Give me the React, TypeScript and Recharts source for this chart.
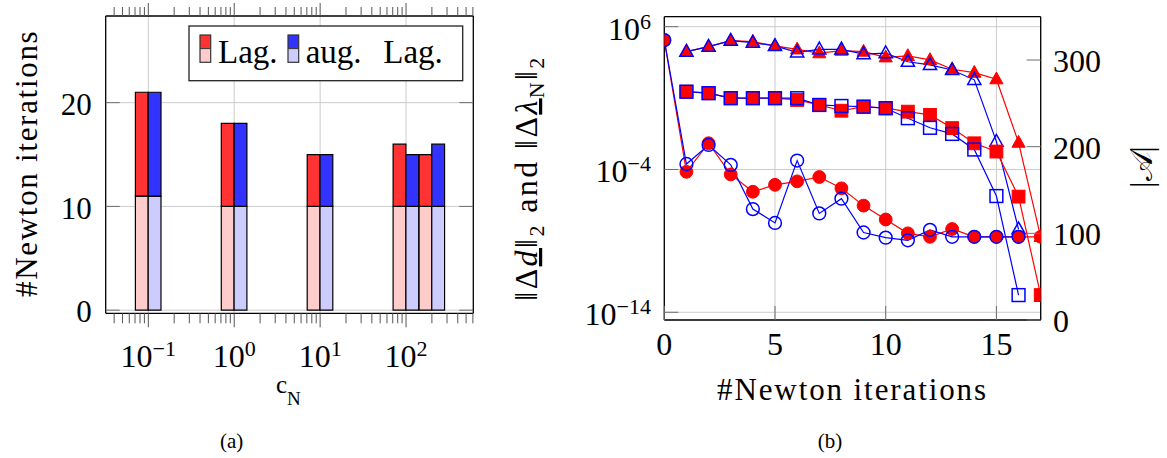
import React from 'react';
import { ComposedChart, Bar, Line, XAxis, YAxis, CartesianGrid } from 'recharts';

const FONT = "'Liberation Serif', 'Times New Roman', serif";

// ---------- (a) bar chart data ----------
const cValues = [0.1, 1, 10, 100, 200];
const lagFirstPhase = [11, 10, 10, 10, 10];
const lagTotal = [21, 18, 15, 16, 15];
const augFirstPhase = [11, 10, 10, 10, 10];
const augTotal = [21, 18, 15, 15, 16];
const cMajorTicks = [0.1, 1, 10, 100];
const cMinorTicks = [
  0.04, 0.05, 0.06, 0.07, 0.08, 0.09,
  0.2, 0.3, 0.4, 0.5, 0.6, 0.7, 0.8, 0.9,
  2, 3, 4, 5, 6, 7, 8, 9,
  20, 30, 40, 50, 60, 70, 80, 90,
  200, 300, 400, 500, 600,
];
const newtonTicks = [0, 10, 20];
const C_MIN = 0.0319;
const C_MAX = 606.7;

// ---------- (b) convergence data ----------
const iterations = [0, 1, 2, 3, 4, 5, 6, 7, 8, 9, 10, 11, 12, 13, 14, 15, 16, 17];
const lagDeltaLambda = [null, 1.8e4, 4.0e4, 1.05e5, 8.9e4, 4.5e4, 2.6e4, 1.4e4, 2.1e4, 1.8e4, 7.2e3, 8.9e3, 4.7e3, 1.05e3, 6.0e2, 2.1e2, 7.6e-3, 1.9e-9];
const augDeltaLambda = [null, 1.8e4, 4.0e4, 1.05e5, 7.6e4, 4.5e4, 1.6e4, 2.6e4, 2.6e4, 1.2e4, 1.4e4, 3.5e3, 2.1e3, 9.3e2, 1.9e2, 8.9e-3, 6.5e-9, null];
const lagDeltaD = [null, 28, 22, 9.8, 9.8, 9.8, 7.4, 3.3, 1.3, 2.5, 1.95, 1.12, 0.66, 0.079, 6.8e-3, 1.8e-3, 1.26e-6, 1.6e-13];
const augDeltaD = [null, 28, 22, 9.8, 9.8, 9.8, 9.8, 3.3, 2.8, 2.5, 1.95, 0.39, 0.083, 0.031, 2.5e-3, 1.38e-6, 1.6e-13, null];
const lagActive = [323, 171, 204, 168, 148, 156, 160, 165, 152, 132, 116, 100, 96, 105, 96, 96, 96, 96];
const augActive = [323, 180, 202, 179, 128, 112, 184, 123, 140, 101, 95, 92, 104, 96, 96, 96, 96, null];
const iterTicks = [0, 5, 10, 15];
const normTicks = [1e-14, 1e-4, 1e6];
const activeTicks = [0, 100, 200, 300];
const LOG_MIN = 2.88e-15;
const LOG_MAX = 5.0e6;

const barRows = cValues.map((c, i) => ({
  c,
  lagBase: lagFirstPhase[i],
  lagExtra: lagTotal[i] - lagFirstPhase[i],
  augBase: augFirstPhase[i],
  augExtra: augTotal[i] - augFirstPhase[i],
}));

const convRows = iterations.map((it, i) => ({
  it,
  lagL: lagDeltaLambda[i],
  augL: augDeltaLambda[i],
  lagD: lagDeltaD[i],
  augD: augDeltaD[i],
  lagA: lagActive[i],
  augA: augActive[i],
}));

const cAllTicks = [...cMajorTicks, ...cMinorTicks].sort((a, b) => a - b);
const isMajorC = (v: number) => cMajorTicks.some((m) => Math.abs(m - v) / m < 1e-6);

const RED = '#ff0000';
const BLUE = '#0000ff';
const GRID = '#cbcbcb';
const TICK = '#6e6e6e';
const MINOR = '#555555';

const supText = (e: number) => (e < 0 ? '\u2212' + Math.abs(e) : String(e));

// ---- ticks of (a) ----
const XTickA = (props: any) => {
  const { x, y, payload } = props;
  const major = isMajorC(payload.value);
  const e = Math.round(Math.log10(payload.value));
  return (
    <g>
      <line x1={x} x2={x} y1={y} y2={y + (major ? 14 : 10)} stroke={MINOR} strokeWidth={1} />
      {major && (
        <text x={x} y={y + 53.4} textAnchor="middle" fontFamily={FONT} fontSize={32} fill="#000">
          10<tspan dy={-11} fontSize={22}>{supText(e)}</tspan>
        </text>
      )}
    </g>
  );
};

const XTopTickA = (props: any) => {
  const { x, y, payload } = props;
  const major = isMajorC(payload.value);
  return <line x1={x} x2={x} y1={y} y2={y - (major ? 13 : 9)} stroke={MINOR} strokeWidth={1} />;
};

const YTickA = (props: any) => {
  const { x, y, payload } = props;
  return (
    <g>
      <line x1={x} x2={x + 14} y1={y} y2={y} stroke={TICK} strokeWidth={1} />
      <text x={x - 14} y={y + 12.3} textAnchor="end" fontFamily={FONT} fontSize={31} fill="#000">
        {payload.value}
      </text>
    </g>
  );
};

const YRightTickA = (props: any) => {
  const { x, y } = props;
  return <line x1={x} x2={x - 14} y1={y} y2={y} stroke={TICK} strokeWidth={1} />;
};

// ---- ticks of (b) ----
const XTickB = (props: any) => {
  const { x, y, payload } = props;
  return (
    <g>
      <line x1={x} x2={x} y1={y} y2={y - 14} stroke={TICK} strokeWidth={1} />
      <text x={x} y={y + 35} textAnchor="middle" fontFamily={FONT} fontSize={32} fill="#000">
        {payload.value}
      </text>
    </g>
  );
};

const YLogTickB = (props: any) => {
  const { x, y, payload } = props;
  const e = Math.round(Math.log10(payload.value));
  return (
    <g>
      <line x1={x} x2={x + 14} y1={y} y2={y} stroke={TICK} strokeWidth={1} />
      <text x={x - 13.3} y={y + 13} textAnchor="end" fontFamily={FONT} fontSize={32} fill="#000">
        10<tspan dy={-11} fontSize={22}>{supText(e)}</tspan>
      </text>
    </g>
  );
};

const YRightTickB = (props: any) => {
  const { x, y, payload } = props;
  return (
    <g>
      <line x1={x} x2={x - 14} y1={y} y2={y} stroke={TICK} strokeWidth={1} />
      <text x={x + 12.3} y={y + 12} textAnchor="start" fontFamily={FONT} fontSize={32} fill="#000">
        {payload.value}
      </text>
    </g>
  );
};

type MarkKind = 'circle' | 'square' | 'triangle';
const makeDot = (kind: MarkKind, color: string, filled: boolean) => (props: any) => {
  const { cx, cy, index, value } = props;
  if (cx == null || cy == null || value == null || Number.isNaN(cy)) return <g key={`e${index}`} />;
  const common = {
    fill: filled ? color : 'none',
    stroke: color,
    strokeWidth: filled ? 1 : 1.5,
  };
  if (kind === 'circle') return <circle key={`c${index}`} cx={cx} cy={cy} r={6.4} {...common} />;
  if (kind === 'square') return <rect key={`s${index}`} x={cx - 6.4} y={cy - 6.4} width={12.8} height={12.8} {...common} />;
  const pts = `${cx},${cy - 7.2} ${cx - 6.6},${cy + 4.6} ${cx + 6.6},${cy + 4.6}`;
  return <polygon key={`t${index}`} points={pts} {...common} />;
};

const FRAME = { stroke: '#000', strokeWidth: 1.3 };

const BarChartA = () => (
  <ComposedChart
    width={490}
    height={458}
    data={barRows}
    margin={{ top: 15, right: 15.7, bottom: 0, left: 0 }}
    barGap={0}
  >
    <CartesianGrid
      xAxisId="c" yAxisId="n" stroke={GRID} strokeWidth={1}
      verticalValues={cMajorTicks} horizontalValues={newtonTicks}
    />
    <XAxis
      xAxisId="c" dataKey="c" type="number" scale="log" domain={[C_MIN, C_MAX]} allowDataOverflow
      ticks={cAllTicks} interval={0} height={144.7} tickSize={0} tickMargin={0}
      tick={XTickA} axisLine={FRAME} tickLine={false}
    />
    <XAxis
      xAxisId="cTop" orientation="top" dataKey="c" type="number" scale="log" domain={[C_MIN, C_MAX]} allowDataOverflow
      ticks={cAllTicks} interval={0} height={1} tickSize={0} tickMargin={0} tick={XTopTickA}
      axisLine={FRAME} tickLine={false}
    />
    <YAxis
      yAxisId="n" type="number" domain={[-0.3, 28.35]} allowDataOverflow ticks={newtonTicks} interval={0}
      width={105.7} tickSize={0} tickMargin={0} tick={YTickA}
      axisLine={FRAME} tickLine={false}
    />
    <YAxis
      yAxisId="nRight" orientation="right" type="number" domain={[-0.3, 28.35]} allowDataOverflow ticks={newtonTicks}
      interval={0} width={1} tickSize={0} tickMargin={0} tick={YRightTickA}
      axisLine={FRAME} tickLine={false}
    />
    <Bar xAxisId="c" yAxisId="n" dataKey="lagBase" stackId="lag" fill="#ffcccc" stroke="#000" strokeWidth={1.2} barSize={12.8} isAnimationActive={false} />
    <Bar xAxisId="c" yAxisId="n" dataKey="lagExtra" stackId="lag" fill="#ff3333" stroke="#000" strokeWidth={1.2} barSize={12.8} isAnimationActive={false} />
    <Bar xAxisId="c" yAxisId="n" dataKey="augBase" stackId="aug" fill="#ccccff" stroke="#000" strokeWidth={1.2} barSize={12.8} isAnimationActive={false} />
    <Bar xAxisId="c" yAxisId="n" dataKey="augExtra" stackId="aug" fill="#3333ff" stroke="#000" strokeWidth={1.2} barSize={12.8} isAnimationActive={false} />
  </ComposedChart>
);

const ConvChartB = () => (
  <ComposedChart
    width={667}
    height={458}
    data={convRows}
    margin={{ top: 15.7, right: 0, bottom: 0, left: 0 }}
  >
    <CartesianGrid xAxisId="it" yAxisId="log" stroke={GRID} strokeWidth={1} />
    <XAxis
      xAxisId="it" dataKey="it" type="number" domain={[0, 17]} allowDataOverflow ticks={iterTicks} interval={0}
      height={138} tickSize={0} tickMargin={0} tick={XTickB}
      axisLine={FRAME} tickLine={false}
    />
    <XAxis
      xAxisId="itTop" orientation="top" dataKey="it" type="number" domain={[0, 17]} allowDataOverflow ticks={iterTicks}
      interval={0} height={1} tickSize={0} tick={() => <g />} tickLine={false}
      axisLine={FRAME}
    />
    <YAxis
      yAxisId="log" type="number" scale="log" domain={[LOG_MIN, LOG_MAX]} allowDataOverflow ticks={normTicks} interval={0}
      width={164.3} tickSize={0} tickMargin={0} tick={YLogTickB}
      axisLine={FRAME} tickLine={false}
    />
    <YAxis
      yAxisId="lin" orientation="right" type="number" domain={[0, 350]} allowDataOverflow ticks={activeTicks} interval={0}
      width={126.3} tickSize={0} tickMargin={0} tick={YRightTickB}
      axisLine={FRAME} tickLine={false}
    />
    <Line xAxisId="it" yAxisId="log" dataKey="lagL" stroke={RED} strokeWidth={1.2} dot={makeDot('triangle', RED, true)} activeDot={false} isAnimationActive={false} />
    <Line xAxisId="it" yAxisId="log" dataKey="augL" stroke={BLUE} strokeWidth={1.2} dot={makeDot('triangle', BLUE, false)} activeDot={false} isAnimationActive={false} />
    <Line xAxisId="it" yAxisId="log" dataKey="lagD" stroke={RED} strokeWidth={1.2} dot={makeDot('square', RED, true)} activeDot={false} isAnimationActive={false} />
    <Line xAxisId="it" yAxisId="log" dataKey="augD" stroke={BLUE} strokeWidth={1.2} dot={makeDot('square', BLUE, false)} activeDot={false} isAnimationActive={false} />
    <Line xAxisId="it" yAxisId="lin" dataKey="lagA" stroke={RED} strokeWidth={1.2} dot={makeDot('circle', RED, true)} activeDot={false} isAnimationActive={false} />
    <Line xAxisId="it" yAxisId="lin" dataKey="augA" stroke={BLUE} strokeWidth={1.2} dot={makeDot('circle', BLUE, false)} activeDot={false} isAnimationActive={false} />
  </ComposedChart>
);

const Overlay = () => (
  <svg
    width={1167}
    height={458}
    style={{ position: 'absolute', left: 0, top: 0, pointerEvents: 'none', overflow: 'visible' }}
    fontFamily={FONT}
  >
    {/* legend of (a) */}
    <rect x={189} y={26} width={273.7} height={54.7} fill="#fff" stroke="#222" strokeWidth={1.3} />
    <rect x={200} y={35} width={10.7} height={13.6} fill="#ff3333" />
    <rect x={200} y={48.6} width={10.7} height={13.7} fill="#ffcccc" />
    <rect x={200} y={35} width={10.7} height={27.3} fill="none" stroke="#333" strokeWidth={1.2} />
    <line x1={200} x2={210.7} y1={48.6} y2={48.6} stroke="#333" strokeWidth={1} />
    <text x={218} y={62.7} fontSize={33} fill="#000">Lag.</text>
    <rect x={288} y={35} width={10.7} height={13.6} fill="#3333ff" />
    <rect x={288} y={48.6} width={10.7} height={13.7} fill="#ccccff" />
    <rect x={288} y={35} width={10.7} height={27.3} fill="none" stroke="#333" strokeWidth={1.2} />
    <line x1={288} x2={298.7} y1={48.6} y2={48.6} stroke="#333" strokeWidth={1} />
    <text y={62.7} fontSize={33} fill="#000">
      <tspan x={305.7}>aug.</tspan>
      <tspan x={383.3}>Lag.</tspan>
    </text>

    {/* axis titles of (a) */}
    <text transform="translate(37,163.3) rotate(-90)" textAnchor="middle" fontSize={31} letterSpacing={1.7} fill="#000">
      #Newton iterations
    </text>
    <text x={288.3} y={393.3} textAnchor="middle" fontSize={25} fill="#000">
      c<tspan fontSize={19} dy={12}>N</tspan>
    </text>
    <text x={231.7} y={447.5} textAnchor="middle" fontSize={21} fill="#000">(a)</text>

    {/* axis titles of (b) */}
    <text x={852.5} y={400} textAnchor="middle" fontSize={31} letterSpacing={1.9} fill="#000">
      #Newton iterations
    </text>
    <text transform="translate(537,178) rotate(-90)" textAnchor="middle" fontSize={32} letterSpacing={2.4} fill="#000" style={{ whiteSpace: 'pre' }}>
      <tspan>{'\u2016\u0394'}</tspan>
      <tspan fontStyle="italic" textDecoration="underline">d</tspan>
      <tspan>{'\u2016'}</tspan>
      <tspan fontSize={22} dy={7}>2</tspan>
      <tspan dy={-7}>{' and \u2016\u0394'}</tspan>
      <tspan fontStyle="italic" textDecoration="underline">{'\u03bb'}</tspan>
      <tspan fontSize={22} dy={7}>N</tspan>
      <tspan dy={-7}>{'\u2016'}</tspan>
      <tspan fontSize={22} dy={7}>2</tspan>
    </text>
    <text transform="translate(1152,167) rotate(-90)" textAnchor="middle" fontSize={31} fill="#000">
      {'|\ud835\udc9c|'}
    </text>
    <text x={830} y={447.5} textAnchor="middle" fontSize={21} fill="#000">(b)</text>
  </svg>
);

export default function App() {
  return (
    <div style={{ position: 'absolute', left: 0, top: 0, width: 1167, height: 458, background: '#fff', overflow: 'hidden' }}>
      <div style={{ position: 'absolute', left: 0, top: 0 }}>
        <BarChartA />
      </div>
      <div style={{ position: 'absolute', left: 500, top: 0 }}>
        <ConvChartB />
      </div>
      <Overlay />
    </div>
  );
}
